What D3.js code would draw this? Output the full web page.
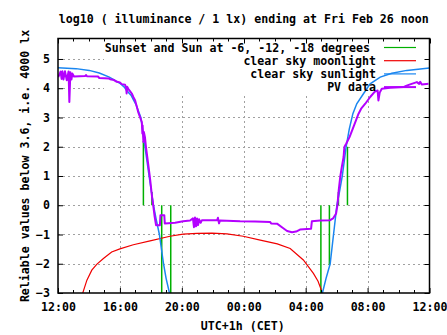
<!DOCTYPE html>
<html><head><meta charset="utf-8">
<script src="https://cdn.jsdelivr.net/npm/d3@7"></script>
<style>
html,body{margin:0;padding:0;background:#fff;}
svg text{font-family:"DejaVu Sans Mono",monospace;font-weight:bold;font-size:11.6px;fill:#000;}
</style></head>
<body><svg id="c" width="447" height="335"></svg>
<script>
// ---- data ----
const titleText = "log10 ( illuminance / 1 lx) ending at Fri Feb 26 noon";
const yLabelText = "Reliable values below 3.6, i.e. 4000 lx";
const xLabelText = "UTC+1h (CET)";
const legendLabels = ["Sunset and Sun at -6, -12, -18 degrees", "clear sky moonlight", "clear sky sunlight", "PV data"];
const yTicks = [-3, -2, -1, 0, 1, 2, 3, 4, 5];

// Sun events (sunset, -6, -12, -18 and reverse at dawn) : impulse from 0 to value
const sunTimes = ["17:31", "18:04", "18:42", "19:17", "04:59", "05:32", "06:07", "06:42"];
const sunValues = [2.2, 0.45, -3.5, -3.5, -3.5, -2.05, 0.45, 2.0];

const moonTimes = ["13:36","13:52","14:11","14:30","14:56","15:28","16:00","16:52","17:57","19:14","20:05","20:59","21:57","22:55","23:58","01:04","02:10","03:00","03:51","04:30","04:48","05:05"];
const moonValues = [-3,-2.56,-2.22,-2.02,-1.82,-1.6,-1.49,-1.35,-1.22,-1.06,-0.99,-0.96,-0.95,-0.98,-1.06,-1.19,-1.32,-1.48,-1.87,-2.33,-2.6,-3];

const sunlightTimes = ["12:00","13:10","14:01","14:40","15:19","15:41","16:00","16:17","16:26","16:43","16:52","17:03","17:11","17:21","17:37","17:53","18:10","18:21","18:33","18:49","18:59","19:12","19:20","05:00","05:05","05:19","05:35","05:48","06:01","06:12","06:22","06:37","06:49","07:03","07:18","07:44","08:10","08:49","09:34","10:32","12:00"];
const sunlightValues = [4.70,4.67,4.61,4.52,4.38,4.27,4.17,4.04,3.92,3.76,3.61,3.43,3.24,3.0,2.0,1.0,0,-0.5,-1,-2,-2.5,-3,null,null,-3,-2.5,-2,-1,0,0.5,1,2,2.6,3.13,3.47,3.81,4.15,4.38,4.51,4.61,4.69];

const pvTimes = ["12:01","12:10","12:14","12:17","12:21","12:27","12:34","12:41","12:44","12:48","12:52","12:56","13:02","13:45","13:49","13:52","14:35","14:40","15:18","15:22","15:37","15:48","16:00","16:07","16:20","16:24","16:26","16:28","16:33","16:39","16:46","16:52","16:59","17:05","17:11","17:18","17:25","17:27","17:28","17:31","17:33","17:37","17:41","17:46","17:51","17:56","17:59","18:03","18:09","18:14","18:20","18:35","18:37","18:52","18:54","19:34","20:05","20:32","20:43","20:47","20:51","20:55","20:59","21:03","21:07","21:13","21:18","22:17","22:20","22:24","22:28","23:46","00:44","01:42","01:46","02:09","02:32","02:48","03:07","03:23","03:38","04:05","04:21","04:24","04:56","05:35","05:46","05:58","06:03","06:08","06:14","06:20","06:27","06:30","06:37","06:50","07:05","07:25","07:35","07:51","08:10","08:29","08:39","08:42","08:47","08:55","09:27","10:19","10:29","10:45","11:11","11:20","11:24","11:30","11:56"];
const pvValues = [4.38,4.57,4.32,4.58,4.30,4.58,4.27,4.57,3.53,4.55,4.30,4.50,4.40,4.42,4.45,4.41,4.40,4.35,4.33,4.31,4.28,4.22,4.20,4.14,4.12,4.02,3.82,4.05,3.97,3.90,3.82,3.70,3.58,3.38,3.18,3.01,2.84,2.45,2.73,2.16,2.5,2.33,1.99,1.65,1.31,0.97,0.74,0.4,0.0,-0.35,-0.68,-0.68,-0.34,-0.34,-0.62,-0.6,-0.55,-0.52,-0.45,-0.75,-0.42,-0.72,-0.45,-0.68,-0.48,-0.6,-0.51,-0.51,-0.43,-0.62,-0.52,-0.55,-0.56,-0.57,-0.62,-0.63,-0.78,-0.88,-0.92,-0.9,-0.83,-0.81,-0.80,-0.55,-0.52,-0.51,-0.45,-0.28,0.0,0.5,0.97,1.3,1.65,1.99,2.1,2.33,2.67,3.13,3.3,3.47,3.70,3.89,3.92,3.58,3.85,3.98,4.02,4.04,4.08,4.13,4.21,4.15,4.22,4.13,4.15];

// ---- helpers ----
function parseSeq(times) {
  let day = 25, prev = -1;
  return times.map(s => {
    const [h, m] = s.split(":").map(Number);
    const t = h * 60 + m;
    if (t < prev) day++;
    prev = t;
    return new Date(2021, 1, day, h, m);
  });
}
function parseEvent(s) {
  const [h, m] = s.split(":").map(Number);
  return new Date(2021, 1, h >= 12 ? 25 : 26, h, m);
}

const W = 447, H = 335;
const L = 58, R = 429.5, T = 38.5, B = 293;
const svg = d3.select("#c");
const x = d3.scaleTime().domain([new Date(2021,1,25,12,0), new Date(2021,1,26,12,0)]).range([L, R]);
const y = d3.scaleLinear().domain([-3, 5.7]).range([B, T]);

svg.append("defs").append("clipPath").attr("id","clip")
  .append("rect").attr("x",L).attr("y",T).attr("width",R-L).attr("height",B-T);

// grid
const grid = svg.append("g").attr("stroke","#a0a0a0").attr("stroke-width",1).attr("stroke-dasharray","2,3");
const majorX = x.ticks(d3.timeHour.every(4));
majorX.filter(d => x(d) > L+1 && x(d) < R-1).forEach(d => {
  grid.append("line").attr("x1",Math.round(x(d))+0.5).attr("x2",Math.round(x(d))+0.5).attr("y1",B).attr("y2",T);
});
yTicks.filter(v => v > -3).forEach(v => {
  grid.append("line").attr("x1",L).attr("x2",R).attr("y1",Math.round(y(v))+0.5).attr("y2",Math.round(y(v))+0.5);
});

// key background (covers grid)
svg.append("rect").attr("x",104).attr("y",T+1).attr("width",R-104-1).attr("height",93-T-1).attr("fill","#fff");

const plot = svg.append("g").attr("clip-path","url(#clip)");

// sun events
const sunDates = sunTimes.map(parseEvent);
plot.append("g").selectAll("line").data(sunDates).join("line")
  .attr("x1", d => x(d)).attr("x2", d => x(d))
  .attr("y1", y(0)).attr("y2", (d,i) => y(sunValues[i]))
  .attr("stroke","#00b000").attr("stroke-width",1.5);

// moonlight
const moonDates = parseSeq(moonTimes);
plot.append("path").datum(moonValues.map((v,i)=>[moonDates[i],v]))
  .attr("fill","none").attr("stroke","#f00000").attr("stroke-width",1.2)
  .attr("d", d3.line().x(d=>x(d[0])).y(d=>y(d[1])));

// sunlight
const slDates = parseSeq(sunlightTimes);
plot.append("path").datum(sunlightValues.map((v,i)=>[slDates[i],v]))
  .attr("fill","none").attr("stroke","#1a86f0").attr("stroke-width",1.5)
  .attr("d", d3.line().defined(d=>d[1]!==null).x(d=>x(d[0])).y(d=>y(d[1])));

// PV data
const pvDates = parseSeq(pvTimes);
plot.append("path").datum(pvValues.map((v,i)=>[pvDates[i],v]))
  .attr("fill","none").attr("stroke","#b400ff").attr("stroke-width",2).attr("stroke-linejoin","round")
  .attr("d", d3.line().x(d=>x(d[0])).y(d=>y(d[1])));

// axes
const fmt = d3.timeFormat("%H:%M");
const xAxis = svg.append("g").attr("transform",`translate(0,${B})`)
  .call(d3.axisBottom(x).ticks(d3.timeHour.every(4)).tickFormat(fmt).tickSizeInner(-5).tickSizeOuter(0).tickPadding(10));
const yAxis = svg.append("g").attr("transform",`translate(${L},0)`)
  .call(d3.axisLeft(y).tickValues(yTicks).tickFormat(d3.format("d")).tickSizeInner(-5).tickSizeOuter(0).tickPadding(8));
[xAxis, yAxis].forEach(a => {
  a.select(".domain").remove();
  a.attr("font-family", null).attr("font-size", null);
  a.selectAll("line").attr("stroke","#000");
});

// mirrored/minor ticks
const tk = svg.append("g").attr("stroke","#000").attr("stroke-width",1);
x.ticks(d3.timeHour.every(1)).forEach(d => {
  const px = Math.round(x(d)) + 0.5;
  const major = d.getHours() % 4 === 0;
  const len = major ? 5 : 3;
  tk.append("line").attr("x1",px).attr("x2",px).attr("y1",T).attr("y2",T+len);
  if (!major) tk.append("line").attr("x1",px).attr("x2",px).attr("y1",B).attr("y2",B-len);
});
yTicks.forEach(v => {
  const py = Math.round(y(v)) + 0.5;
  tk.append("line").attr("x1",R).attr("x2",R-5).attr("y1",py).attr("y2",py);
});

// frame
svg.append("rect").attr("x",L).attr("y",T).attr("width",R-L).attr("height",B-T)
  .attr("fill","none").attr("stroke","#000").attr("stroke-width",1.5);

// legend
const legColors = ["#00b000","#f00000","#1a86f0","#b400ff"];
const legY = [47.5, 60.7, 73.9, 87.1];
const legEnd = [370, 376, 376, 376];
legendLabels.forEach((t,i) => {
  svg.append("text").attr("x",legEnd[i]).attr("y",legY[i]).attr("dy","0.35em").attr("text-anchor","end").text(t);
  svg.append("line").attr("x1",384).attr("x2",416).attr("y1",legY[i]).attr("y2",legY[i])
    .attr("stroke",legColors[i]).attr("stroke-width", i===3 ? 2 : 1.2);
});

// titles
svg.append("text").attr("x",(L+R)/2).attr("y",19).attr("dy","0.35em").attr("text-anchor","middle").text(titleText);
svg.append("text").attr("x",(L+R)/2 - 1).attr("y",325.5).attr("dy","0.35em").attr("text-anchor","middle").text(xLabelText);
svg.append("text").attr("transform","translate(24.5,166) rotate(-90)").attr("dy","0.35em").attr("text-anchor","middle").text(yLabelText);
</script></body></html>
